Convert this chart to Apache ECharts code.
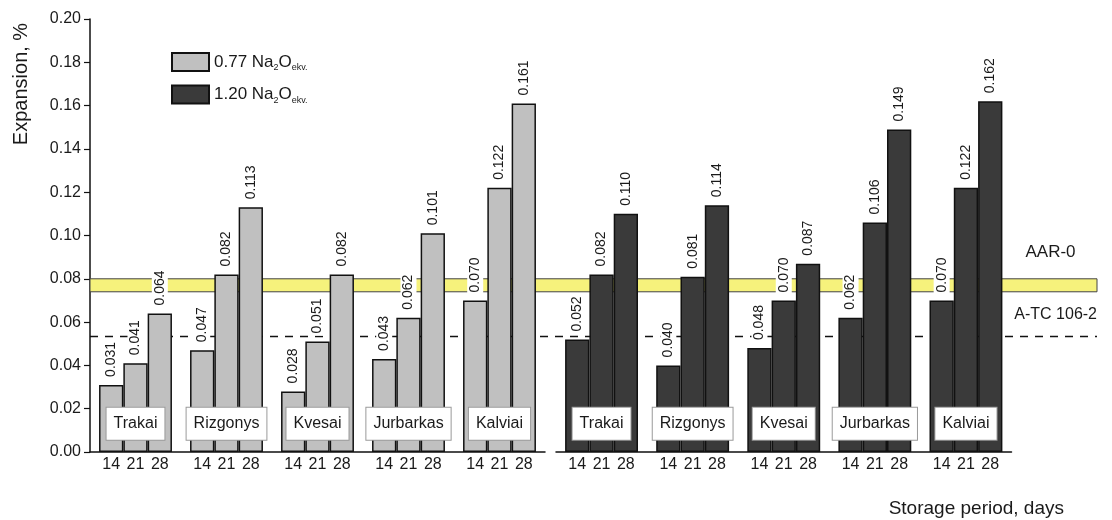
<!DOCTYPE html>
<html>
<head>
<meta charset="utf-8">
<script src="https://cdn.jsdelivr.net/npm/echarts@6/dist/echarts.min.js"></script>
<style>
  html, body { margin: 0; padding: 0; background: #fff; }
  #chart { width: 1112px; height: 520px; }
</style>
</head>
<body>
<div id="chart"></div>
<script>
// Storage periods (days) and aggregate sites
const DAYS = ['14', '21', '28'];
const SITES = ['Trakai', 'Rizgonys', 'Kvesai', 'Jurbarkas', 'Kalviai'];
const NA_LEVELS = ['0.77', '1.20'];

// Expansion, % — 0.77 Na2O ekv.
const EXP_077_D14 = [0.031, 0.047, 0.028, 0.043, 0.070];
const EXP_077_D21 = [0.041, 0.082, 0.051, 0.062, 0.122];
const EXP_077_D28 = [0.064, 0.113, 0.082, 0.101, 0.161];
// Expansion, % — 1.20 Na2O ekv.
const EXP_120_D14 = [0.052, 0.040, 0.048, 0.062, 0.070];
const EXP_120_D21 = [0.082, 0.081, 0.070, 0.106, 0.122];
const EXP_120_D28 = [0.110, 0.114, 0.087, 0.149, 0.162];

// Limit criteria
const AAR0_BAND = [0.074, 0.080];
const ATC_LIMIT = 0.0535;
const LIMIT_NAMES = ['AAR-0', 'A-TC 106-2'];

const FONT = 'Liberation Sans, Arial, Helvetica, sans-serif';
const TXT = '#1a1a1a';
const COLORS = ['#c0c0c0', '#3a3a3a'];
const BAR_W = 24.3;
const SITE_LABEL_LEVEL = 0.013;

const groups = [
  [EXP_077_D14, EXP_077_D21, EXP_077_D28],
  [EXP_120_D14, EXP_120_D21, EXP_120_D28]
];
const seriesName = i => NA_LEVELS[i] + ' Na2Oekv.';

const chart = echarts.init(document.getElementById('chart'), null, { renderer: 'canvas' });

const grids = [
  { left: 90, right: 15, top: 19, bottom: 68 },       // full-width frame with the y axis and limits
  { left: 90, width: 455, top: 19, bottom: 68 },      // 0.77 group
  { left: 556, width: 455.5, top: 19, bottom: 68 }    // 1.20 group
];

const xAxes = [
  { gridIndex: 0, type: 'value', min: 0, max: 1, show: false }
];
const yAxes = [
  {
    gridIndex: 0, type: 'value', min: 0, max: 0.2, interval: 0.02,
    axisLine: { show: true, lineStyle: { color: '#111', width: 1.5 } },
    axisTick: { show: true, length: 6, lineStyle: { color: '#111', width: 1.2 } },
    splitLine: { show: false },
    axisLabel: { color: TXT, fontSize: 16, fontFamily: FONT, margin: 9, formatter: v => v.toFixed(2) }
  }
];
[1, 2].forEach(g => {
  xAxes.push({
    gridIndex: g, type: 'category', data: SITES,
    axisLine: { show: true, lineStyle: { color: '#111', width: 1.5 } },
    axisTick: { show: false },
    axisLabel: {
      interval: 0, margin: 5, color: TXT, fontFamily: FONT, fontSize: 16,
      formatter: () => DAYS.map(d => '{d|' + d + '}').join(''),
      rich: { d: { width: BAR_W, align: 'center', fontSize: 16, fontFamily: FONT, color: TXT } }
    }
  });
  yAxes.push({ gridIndex: g, type: 'value', min: 0, max: 0.2, show: false });
});

const series = [
  {
    type: 'line', xAxisIndex: 0, yAxisIndex: 0, data: [], silent: true, z: 1,
    markArea: {
      silent: true, z: 1,
      itemStyle: { color: '#f6f27c', borderColor: '#444', borderWidth: 1 },
      label: {
        show: true, position: [936, -34], color: TXT, fontFamily: FONT, fontSize: 17,
        formatter: LIMIT_NAMES[0]
      },
      data: [[{ yAxis: AAR0_BAND[0], x: 90 }, { yAxis: AAR0_BAND[1], x: 1097 }]]
    },
    markLine: {
      silent: true, symbol: 'none', precision: 4, z: 1,
      lineStyle: { color: '#111', type: [8, 7], width: 1.3 },
      label: {
        show: true, position: 'insideEndTop', distance: [0, 14], color: TXT,
        fontFamily: FONT, fontSize: 16, formatter: LIMIT_NAMES[1]
      },
      data: [{ yAxis: ATC_LIMIT }]
    }
  }
];

groups.forEach((rows, gi) => {
  rows.forEach((vals, di) => {
    series.push({
      type: 'bar', name: seriesName(gi), xAxisIndex: gi + 1, yAxisIndex: gi + 1,
      data: vals, barWidth: BAR_W, barGap: '0%', z: 3,
      itemStyle: { color: COLORS[gi], borderColor: '#111', borderWidth: 1.5 },
      label: {
        show: true, position: 'top', rotate: 90, align: 'left', verticalAlign: 'middle',
        distance: 6, color: TXT, fontFamily: FONT, fontSize: 14,
        backgroundColor: '#fff', padding: [1, 2, 1, 2],
        formatter: p => p.value.toFixed(3)
      }
    });
  });
  // site name boxes at the foot of each bar triplet
  series.push({
    type: 'scatter', xAxisIndex: gi + 1, yAxisIndex: gi + 1, z: 5, silent: true,
    symbol: 'rect', symbolSize: 1, itemStyle: { color: 'rgba(0,0,0,0)', opacity: 1 },
    label: {
      show: true, position: 'inside', formatter: '{b}', color: TXT,
      fontFamily: FONT, fontSize: 16, backgroundColor: '#fff',
      borderColor: '#9a9a9a', borderWidth: 1, padding: [8, 7, 8, 7]
    },
    data: SITES.map(s => ({ name: s, value: [s, SITE_LABEL_LEVEL] }))
  });
});

chart.setOption({
  animation: false,
  backgroundColor: '#fff',
  textStyle: { fontFamily: FONT },
  grid: grids,
  xAxis: xAxes,
  yAxis: yAxes,
  legend: {
    orient: 'vertical', left: 171, top: 52, padding: 0, itemWidth: 37, itemHeight: 18, itemGap: 12,
    icon: 'rect', selectedMode: false,
    data: [seriesName(0), seriesName(1)],
    formatter: n => {
      const lvl = n.split(' ')[0];
      return '{t|' + lvl + ' Na}{s|2}{t|O}{s|ekv.}';
    },
    textStyle: {
      color: TXT, fontFamily: FONT, fontSize: 16,
      rich: {
        t: { fontSize: 17, fontFamily: FONT, color: TXT, lineHeight: 20, verticalAlign: 'middle' },
        s: { fontSize: 9, fontFamily: FONT, color: TXT, padding: [12, 0, 0, 0], verticalAlign: 'bottom' }
      }
    }
  },
  graphic: [
    {
      type: 'text', x: 21, y: 84, rotation: Math.PI / 2,
      style: { text: 'Expansion, %', font: '20px ' + FONT, fill: TXT, align: 'center', verticalAlign: 'middle' }
    },
    {
      type: 'text', x: 1064, y: 509,
      style: { text: 'Storage period, days', font: '19px ' + FONT, fill: TXT, align: 'right', verticalAlign: 'middle' }
    }
  ],
  series: series
});
</script>
</body>
</html>
